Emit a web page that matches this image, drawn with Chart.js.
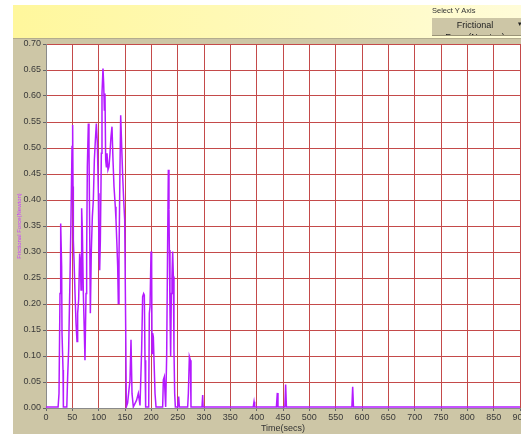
<!DOCTYPE html>
<html>
<head>
<meta charset="utf-8">
<script src="https://cdn.jsdelivr.net/npm/chart.js@4.4.0/dist/chart.umd.min.js"></script>
<style>
  html, body { margin: 0; padding: 0; width: 521px; height: 434px; overflow: hidden; background: #fff;
    font-family: "Liberation Sans", Arial, sans-serif; }
  #header { position: absolute; left: 13px; top: 5px; width: 508px; height: 33px;
    background: linear-gradient(to right, #fff79c, #fffcd8); }
  #panel { position: absolute; left: 13px; top: 38px; width: 508px; height: 396px; background: #cdc6a6;
    border-top: 1px solid #b3ac8e; box-sizing: border-box; }
  #wrap { position: absolute; left: 0; top: 0; width: 535px; height: 434px; }
  #selLabel { position: absolute; left: 432px; top: 6px; font-size: 7.5px; color: #333; }
  #selBtn { position: absolute; left: 432px; top: 18px; width: 95px; height: 18px; background: #cdc6a6;
    border-bottom: 1px solid #9a9377; box-sizing: border-box; overflow: hidden; }
  #selText { width: 86px; text-align: center; font-size: 9px; line-height: 12px; padding-top: 1px; color: #222; }
  #selArrow { position: absolute; left: 86px; top: 2px; font-size: 7px; color: #222; }
</style>
</head>
<body>
<div id="header"></div>
<div id="panel"></div>
<div id="wrap"><canvas id="forceChart" width="535" height="434"></canvas></div>
<div id="selLabel">Select Y Axis</div>
<div id="selBtn"><div id="selText">Frictional Force(Newton)</div><div id="selArrow">&#9662;</div></div>
<script>
// time (s) and frictional force (N)
var times = [0, 23, 24.7, 26.6, 27.9, 29.7, 30.4, 32.3, 33, 39.5,
  41.1, 43, 45.6, 47.5, 49.4, 50.6, 51.3, 51.9, 53.2, 55.1,
  57, 58.9, 60.1, 62, 63.9, 65.2, 66.5, 67.7, 69, 70.9,
  72.8, 74, 76, 77.2, 78.5, 80.4, 81.6, 82.9, 84.2, 86.1,
  88, 89.9, 91.8, 93.7, 95.6, 97.5, 99.4, 100.6, 101.9, 103.2,
  105.1, 106.3, 108.2, 109.5, 110.8, 112, 113.3, 114.6, 115.8, 117.7,
  119.6, 121.5, 123.4, 125.3, 127.2, 129.1, 131.6, 132.9, 134.8, 136.1,
  137.3, 138.6, 140.5, 141.8, 143.7, 145.6, 147.5, 149.4, 151.3, 152.5,
  155, 159.5, 161.4, 163.3, 165.8, 172, 175.3, 178.5, 181.6, 183.5,
  185.4, 186.7, 188, 189.2, 195, 196.2, 197.5, 199.4, 200.6, 201.3,
  202.5, 203.8, 205.1, 207, 208.9, 221.5, 222.8, 224.7, 226, 227.2,
  229.1, 231, 232.3, 233.5, 234.2, 235.4, 236.7, 238, 239.2, 240.5,
  241.8, 243, 244.3, 245.6, 250, 251.9, 253.2, 269, 270.3, 272.2,
  274.1, 275.3, 296.2, 297.5, 298.3, 393.5, 395, 396.3, 437.5, 439.2,
  440.5, 453.5, 455, 456.5, 580.8, 582.3, 583.8, 900];
var frictionalForce = [0.002, 0.002, 0.028, 0.22, 0.355, 0.272, 0.144, 0.073, 0.002, 0.002,
  0.06, 0.112, 0.253, 0.368, 0.503, 0.544, 0.426, 0.323, 0.285, 0.22,
  0.163, 0.128, 0.182, 0.208, 0.297, 0.285, 0.227, 0.384, 0.342, 0.22,
  0.144, 0.092, 0.22, 0.297, 0.464, 0.547, 0.503, 0.349, 0.182, 0.304,
  0.368, 0.4, 0.477, 0.515, 0.547, 0.509, 0.413, 0.297, 0.265, 0.323,
  0.49, 0.605, 0.653, 0.624, 0.573, 0.605, 0.477, 0.464, 0.49, 0.458,
  0.464, 0.49, 0.522, 0.541, 0.477, 0.426, 0.387, 0.362, 0.31, 0.272,
  0.201, 0.285, 0.464, 0.563, 0.503, 0.445, 0.4, 0.362, 0.156, 0.002,
  0.01, 0.054, 0.131, 0.028, 0.002, 0.015, 0.028, 0.005, 0.112, 0.214,
  0.22, 0.217, 0.092, 0.002, 0.002, 0.182, 0.195, 0.301, 0.272, 0.105,
  0.144, 0.137, 0.092, 0.028, 0.002, 0.002, 0.054, 0.06, 0.028, 0.002,
  0.099, 0.323, 0.458, 0.381, 0.304, 0.188, 0.099, 0.22, 0.253, 0.301,
  0.253, 0.112, 0.028, 0.002, 0.002, 0.022, 0.002, 0.002, 0.028, 0.099,
  0.092, 0.002, 0.002, 0.025, 0.002, 0.002, 0.012, 0.002, 0.002, 0.029,
  0.002, 0.002, 0.045, 0.002, 0.002, 0.041, 0.002, 0.002];

var xMin = 0, xMax = 900, xStep = 50;
var yMin = 0, yMax = 0.7, yStep = 0.05;

var gridRed = '#c44a4a';

// white plot area on top of the khaki panel
var plotBackground = {
  id: 'plotBackground',
  beforeDraw: function (chart) {
    var a = chart.chartArea, c = chart.ctx;
    c.save();
    c.fillStyle = '#ffffff';
    c.fillRect(a.left, a.top, a.right - a.left, a.bottom - a.top);
    c.restore();
  }
};

var points = times.map(function (t, i) { return { x: t, y: frictionalForce[i] }; });

var forceCtx = document.getElementById('forceChart').getContext('2d');
var forceChart = new Chart(forceCtx, {
  type: 'line',
  data: {
    datasets: [{
      data: points,
      borderColor: '#b41aff',
      borderWidth: 1.5,
      pointRadius: 0,
      tension: 0,
      fill: false
    }]
  },
  options: {
    responsive: false,
    animation: false,
    layout: { padding: { left: 13, top: 44, right: 15, bottom: 0 } },
    plugins: { legend: { display: false }, tooltip: { enabled: false } },
    scales: {
      x: {
        type: 'linear',
        min: xMin,
        max: xMax,
        afterFit: function (s) { s.height = 26; },
        ticks: {
          stepSize: xStep,
          maxRotation: 0,
          autoSkip: false,
          padding: 1,
          color: '#3a3a3a',
          font: { family: 'Liberation Sans', size: 9 }
        },
        grid: { color: gridRed, lineWidth: 1, tickLength: 3, tickColor: '#666' },
        border: { color: '#8a8a8a' },
        title: {
          display: true,
          text: 'Time(secs)',
          color: '#333',
          padding: { top: 0, bottom: 0 },
          font: { family: 'Liberation Sans', size: 9 }
        }
      },
      y: {
        min: yMin,
        max: yMax,
        afterFit: function (s) { s.width = 33; },
        ticks: {
          stepSize: yStep,
          padding: 2,
          color: '#3a3a3a',
          font: { family: 'Liberation Sans', size: 9 },
          callback: function (v) { return v.toFixed(2); }
        },
        grid: { color: gridRed, lineWidth: 1, tickLength: 3, tickColor: '#666' },
        border: { color: '#8a8a8a' },
        title: {
          display: true,
          text: 'Frictional Force(Newton)',
          color: '#c63cff',
          padding: { top: 3, bottom: 0 },
          font: { family: 'Liberation Sans', size: 6 }
        }
      }
    }
  },
  plugins: [plotBackground]
});
</script>
</body>
</html>
